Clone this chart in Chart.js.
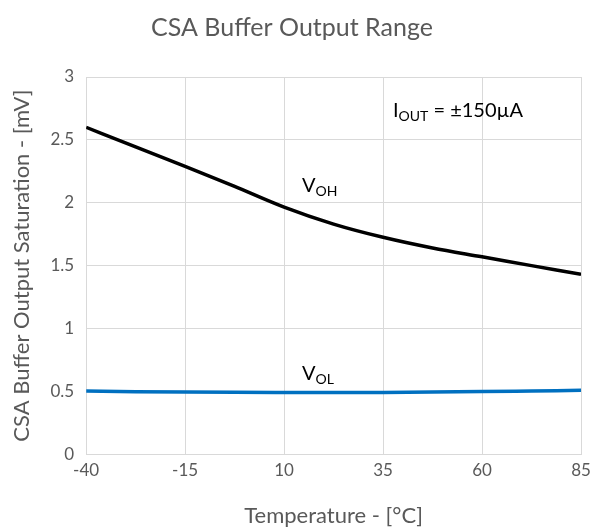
<!DOCTYPE html>
<html>
<head>
<meta charset="utf-8">
<script src="https://cdn.jsdelivr.net/npm/chart.js@4.4.0/dist/chart.umd.min.js"></script>
<style>
html,body{margin:0;padding:0;background:#fff;}
#wrap{width:605px;height:529px;}
</style>
</head>
<body>
<div id="wrap"><canvas id="c" width="605" height="529"></canvas></div>
<script>
const temperatures = [-40, -27.5, -15, -2.5, 10, 22.5, 35, 47.5, 60, 72.5, 85];
const vohValues = [2.60, 2.445, 2.29, 2.13, 1.965, 1.83, 1.725, 1.64, 1.57, 1.50, 1.43];
const volValues = [0.502, 0.497, 0.494, 0.492, 0.491, 0.490, 0.491, 0.494, 0.498, 0.503, 0.508];
const xTicks = [-40, -15, 10, 35, 60, 85];
const yTicks = [0, 0.5, 1, 1.5, 2, 2.5, 3];
const annotations = [
  {main: "I", sub: "OUT", rest: " = ±150µA", x: 37.5, y: 2.73},
  {main: "V", sub: "OH", rest: "", x: 14.5, y: 2.14},
  {main: "V", sub: "OL", rest: "", x: 14.5, y: 0.64}
];

const FONT = "Lato, 'Open Sans', sans-serif";
const GREY = "#595959";

const labelPlugin = {
  id: "labels",
  afterDatasetsDraw(chart) {
    const ctx = chart.ctx;
    const xs = chart.scales.x, ys = chart.scales.y;
    ctx.save();
    ctx.fillStyle = "#000";
    ctx.textBaseline = "middle";
    ctx.textAlign = "left";
    annotations.forEach(a => {
      let px = xs.getPixelForValue(a.x);
      const py = ys.getPixelForValue(a.y);
      ctx.font = "20px " + FONT;
      ctx.fillText(a.main, px, py);
      px += ctx.measureText(a.main).width;
      ctx.font = "14px " + FONT;
      ctx.fillText(a.sub, px, py + 6);
      px += ctx.measureText(a.sub).width;
      if (a.rest) {
        ctx.font = "20px " + FONT;
        ctx.fillText(a.rest, px, py);
      }
    });
    ctx.restore();
  }
};

new Chart(document.getElementById("c"), {
  type: "line",
  data: {
    datasets: [
      {label: "VOH", data: temperatures.map((t, i) => ({x: t, y: vohValues[i]})), borderColor: "#000000", borderWidth: 3.5, pointRadius: 0, cubicInterpolationMode: "monotone", fill: false},
      {label: "VOL", data: temperatures.map((t, i) => ({x: t, y: volValues[i]})), borderColor: "#0070C0", borderWidth: 3.5, pointRadius: 0, cubicInterpolationMode: "monotone", fill: false}
    ]
  },
  options: {
    responsive: false,
    animation: false,
    layout: {padding: {left: 3, right: 24, top: 8, bottom: 0}},
    plugins: {
      legend: {display: false},
      tooltip: {enabled: false},
      title: {display: true, text: "CSA Buffer Output Range", color: GREY, font: {family: FONT, size: 25, weight: "normal"}, padding: {top: 5, bottom: 34}}
    },
    scales: {
      x: {
        type: "linear", min: -40, max: 85,
        afterBuildTicks: s => { s.ticks = xTicks.map(v => ({value: v})); },
        grid: {color: "#d9d9d9", drawTicks: false, lineWidth: 1},
        border: {color: "#d9d9d9"},
        ticks: {color: GREY, font: {family: FONT, size: 17}, padding: 6, callback: v => String(v)},
        title: {display: true, text: "Temperature - [°C]", color: GREY, font: {family: FONT, size: 22}, padding: {top: 16, bottom: 0}}
      },
      y: {
        min: 0, max: 3,
        afterBuildTicks: s => { s.ticks = yTicks.map(v => ({value: v})); },
        grid: {color: "#d9d9d9", drawTicks: false, lineWidth: 1},
        border: {display: false},
        ticks: {color: GREY, font: {family: FONT, size: 17}, padding: 12, callback: v => String(v)},
        title: {display: true, text: "CSA Buffer Output Saturation - [mV]", color: GREY, font: {family: FONT, size: 22}, padding: {top: 6, bottom: 3}}
      }
    }
  },
  plugins: [labelPlugin]
});
</script>
</body>
</html>
